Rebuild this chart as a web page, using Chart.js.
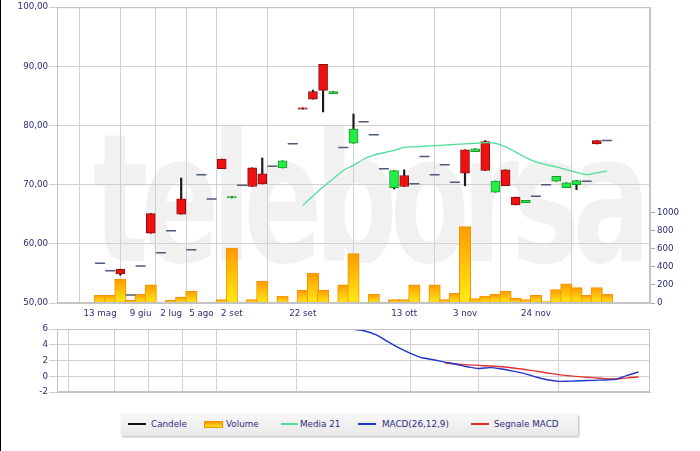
<!DOCTYPE html>
<html>
<head>
<meta charset="utf-8">
<script src="https://cdn.jsdelivr.net/npm/chart.js@4/dist/chart.umd.min.js"></script>
<style>
  body { margin: 0; background: #fff; width: 700px; height: 451px; position: relative; overflow: hidden; font-family: "DejaVu Sans", Verdana, sans-serif; }
  #main { position: absolute; left: 0; top: 0; }
  #macd { position: absolute; left: 0; top: 318px; }
  #edge { position: absolute; left: 0; top: 0; width: 1px; height: 451px; background: #000; }
  #legend { position: absolute; left: 121px; top: 414px; width: 457px; height: 22px; background: linear-gradient(#f7f7f7, #e9e9e9); box-shadow: 1px 1px 2px #b8b8b8; font-size: 8.8px; color: #2b2b80; }
  #legend .sw { position: absolute; }
  #legend .lb { position: absolute; top: 5px; white-space: nowrap; }
</style>
</head>
<body>
<div id="edge"></div>
<canvas id="main" width="700" height="325"></canvas>
<canvas id="macd" width="700" height="82"></canvas>
<div id="legend">
  <div class="sw" style="left:7px;top:9px;width:18px;height:2px;background:#111"></div><div class="lb" style="left:30px">Candele</div>
  <div class="sw" style="left:83px;top:7px;width:19px;height:7px;background:linear-gradient(#ff9a00,#ffe21a);box-sizing:border-box;border:1px solid #f29400"></div><div class="lb" style="left:105px">Volume</div>
  <div class="sw" style="left:160px;top:9px;width:17px;height:2px;background:#4ddf9a"></div><div class="lb" style="left:179px">Media 21</div>
  <div class="sw" style="left:237px;top:9px;width:18px;height:2px;background:#2233cc"></div><div class="lb" style="left:261px">MACD(26,12,9)</div>
  <div class="sw" style="left:350px;top:9px;width:18px;height:2px;background:#e83030"></div><div class="lb" style="left:373px">Segnale MACD</div>
</div>
<script>
// ticks on the time axis (bar index -> date label)
const tickIdx    = [0, 4, 7, 10, 13, 20, 30, 36, 43];
const tickLabels = ["13 mag", "9 giu", "2 lug", "5 ago", "2 set", "22 set", "13 ott", "3 nov", "24 nov"];
const volTicks   = [0, 200, 400, 600, 800, 1000];

const open  = [56.7,55.45,55.7,51.35,56.25,65.1,58.5,62.2,67.6,59.0, 71.7,67.6,74.35,67.75,69.9,72.85,71.85,73.1,72.85,76.9, 83.0,85.75,90.35,85.4,76.3,77.0,80.65,78.45,72.7,69.5, 71.55,70.15,74.75,71.7,73.35,70.4,75.9,75.6,77.3,68.75, 72.5,67.9,66.95,68.05,70.0,70.6,69.5,70.0,70.6,77.45, 77.45];
const high  = [56.7,55.45,55.75,51.35,56.25,65.1,58.5,62.2,71.1,59.0, 71.7,67.6,74.35,68.0,69.9,72.85,74.5,73.1,74.05,76.9, 83.0,86.0,90.35,85.75,76.3,81.95,80.65,78.45,72.7,72.4, 72.5,70.15,74.75,71.7,73.35,70.4,75.9,76.05,77.45,70.6, 72.5,67.9,67.35,68.05,70.0,71.4,70.3,70.7,70.6,77.45, 77.45];
const low   = [56.7,55.45,54.7,51.35,56.25,61.8,58.5,62.2,65.0,59.0, 71.7,67.6,72.7,67.75,69.9,69.7,70.15,73.1,72.85,76.9, 82.75,84.45,82.3,85.4,76.3,77.0,80.65,78.45,72.7,69.3, 69.7,70.15,74.75,71.7,73.35,70.4,69.85,75.6,72.4,68.75, 69.85,66.6,66.95,68.05,70.0,70.6,69.5,69.15,70.6,76.9, 77.45];
const close = [56.7,55.45,54.9,51.35,56.25,61.8,58.5,62.2,65.0,59.0, 71.7,67.6,72.7,68.0,69.9,69.7,70.15,73.1,74.05,76.9, 82.75,84.45,85.95,85.75,76.3,79.4,80.65,78.45,72.7,72.4, 69.7,70.15,74.75,71.7,73.35,70.4,71.95,76.05,72.4,70.6, 69.85,66.6,67.35,68.05,70.0,71.4,70.3,70.7,70.6,76.9, 77.45];
const volume = [85,85,262,30,96,203,11,30,66,129, 11,11,37,610,11,37,240,0,77,0, 140,332,140,0,203,550,0,96,0,37, 37,203,0,203,37,108,848,48,77,96, 129,55,37,85,18,148,214,170,85,170, 96];

const ma21 = [null,null,null,null,null,null,null,null,null,null, null,null,null,null,null,null,null,null,null,null,
  66.5,68.1,69.6,71.0,72.4,73.3,74.3,75.0,75.4,75.8, 76.3,76.4,76.5,76.6,76.7,76.8,76.9,77.0,77.1,77.0,
  76.4,75.5,74.6,73.85,73.4,73.0,72.55,72.1,71.7,72.0, 72.3];
const macd = [null,null,null,null,null,null,null,null,null,null, null,null,null,null,null,null,null,null,null,null, null,null,null,null,null,
  5.95,5.75,5.25,4.4,3.6, 2.9,2.35,2.1,1.8,1.52,1.2,0.98,1.1,0.92,0.65, 0.34,-0.1,-0.45,-0.65,-0.62,-0.57,-0.52,-0.47,-0.4,0.12, 0.55];
const signal = [null,null,null,null,null,null,null,null,null,null, null,null,null,null,null,null,null,null,null,null, null,null,null,null,null,null,null,null,null,null, null,null,null,
  1.7,1.55,1.45,1.38,1.3,1.2,1.05, 0.85,0.65,0.42,0.2,0.05,-0.08,-0.18,-0.3,-0.35,-0.2, -0.1];

const wmText = "teleborsa";
const labelColor = "#2c2c7c";
const gridColor = "#d0d0d0";
const font = { family: '"DejaVu Sans", Verdana, sans-serif', size: 8.7 };

const idx = volume.map((_, i) => i);
const isDash = i => open[i] === close[i] && high[i] === low[i];
const bodies = idx.filter(i => !isDash(i)).map(i => ({ x: i, y: [open[i], close[i]] }));
const wicks = idx.filter(i => !isDash(i)).map(i => ({ x: i, y: [low[i], high[i]] }));
const dashes = idx.filter(isDash).map(i => ({ x: i, y: close[i] }));

const frame = {
  id: "frame",
  afterDraw(chart) {
    const { ctx, chartArea: a } = chart;
    ctx.save();
    ctx.strokeStyle = "#c4c4c4";
    ctx.lineWidth = 1;
    ctx.strokeRect(a.left + 0.5, a.top + 0.5, a.right - a.left - 1, a.bottom - a.top - 1);
    ctx.restore();
  }
};

// faint logo text behind the price panel
const watermark = {
  id: "watermark",
  beforeDraw(chart) {
    const { ctx, chartArea: a } = chart;
    ctx.save();
    ctx.font = 'bold 178px "DejaVu Sans"';
    ctx.letterSpacing = "-12px";
    const w = ctx.measureText(wmText).width;
    ctx.translate(a.left + 36, a.top + 254);
    ctx.scale(550 / w, 1);
    ctx.fillStyle = "rgba(0,0,0,0.055)";
    ctx.fillText(wmText, 0, 0);
    ctx.restore();
  }
};

const volFill = ctx => {
  const c = ctx.chart;
  if (!c.chartArea || !ctx.raw) return "#ffbb00";
  const ys = c.scales.yVol;
  const top = ys.getPixelForValue(ctx.raw.y), bot = ys.getPixelForValue(0);
  if (bot - top < 2) return "#ffc400";
  const g = c.ctx.createLinearGradient(0, top, 0, bot);
  g.addColorStop(0, "#ff9a00");
  g.addColorStop(1, "#ffec14");
  return g;
};

const xScale = (showLabels) => ({
  type: "linear", min: -1, max: 51,
  afterBuildTicks: ax => { ax.ticks = tickIdx.map(v => ({ value: v })); },
  ticks: { display: showLabels, autoSkip: false, maxRotation: 0, padding: 6, color: labelColor, font,
           callback: v => tickLabels[tickIdx.indexOf(v)] },
  grid: { color: gridColor, drawTicks: false },
  border: { color: "#c4c4c4" },
  afterFit: ax => { ax.height = showLabels ? 22 : 8; }
});

new Chart(document.getElementById("main"), {
  type: "bar",
  data: {
    datasets: [
      { type: "line", data: ma21.map((v, i) => ({ x: i, y: v })), borderColor: "#4ddf9a", borderWidth: 1.3,
        pointRadius: 0, tension: 0.35, yAxisID: "y", order: 0 },
      { type: "line", data: dashes, showLine: false, pointStyle: "line", pointRadius: 5,
        pointBorderColor: "#4d5a78", pointBorderWidth: 1.5, yAxisID: "y", order: 1 },
      { data: bodies, grouped: false, barThickness: 9, borderWidth: 1, borderSkipped: false,
        backgroundColor: c => c.raw && c.raw.y[1] >= c.raw.y[0] ? "#22ee44" : "#ee1111",
        borderColor: c => c.raw && c.raw.y[1] >= c.raw.y[0] ? "#169a2c" : "#8a0f0f",
        yAxisID: "y", order: 2 },
      { data: wicks, grouped: false, barThickness: 1.5, backgroundColor: "#1a1a1a", yAxisID: "y", order: 3 },
      { data: volume.map((v, i) => ({ x: i, y: v })), grouped: false, barThickness: 11.4,
        backgroundColor: volFill, borderColor: "#f29400", borderWidth: 1, borderSkipped: false,
        yAxisID: "yVol", order: 4 }
    ]
  },
  options: {
    responsive: false, animation: false,
    layout: { padding: { top: 6 } },
    plugins: { legend: { display: false }, tooltip: { enabled: false } },
    scales: {
      x: xScale(true),
      y: {
        position: "left", min: 50, max: 100,
        ticks: { stepSize: 10, padding: 1, color: labelColor, font, callback: v => v.toFixed(2).replace(".", ",") },
        grid: { color: gridColor, tickLength: 8 },
        border: { color: "#c4c4c4" },
        afterFit: ax => { ax.width = 57; }
      },
      yVol: {
        position: "right", min: 0, max: 3285,
        afterBuildTicks: ax => { ax.ticks = volTicks.map(v => ({ value: v })); },
        ticks: { padding: 2, color: labelColor, font, callback: v => String(v) },
        grid: { drawOnChartArea: false, color: "#aaa", tickLength: 5 },
        border: { color: "#c4c4c4" },
        afterFit: ax => { ax.width = 50; }
      }
    }
  },
  plugins: [watermark, frame]
});

new Chart(document.getElementById("macd"), {
  type: "line",
  data: {
    datasets: [
      { data: macd.map((v, i) => ({ x: i, y: v })), borderColor: "#2233cc", borderWidth: 1.4, pointRadius: 0, tension: 0.3 },
      { data: signal.map((v, i) => ({ x: i, y: v })), borderColor: "#e83030", borderWidth: 1.4, pointRadius: 0, tension: 0.3 }
    ]
  },
  options: {
    responsive: false, animation: false,
    layout: { padding: { top: 11, right: 50 } },
    plugins: { legend: { display: false }, tooltip: { enabled: false } },
    scales: {
      x: xScale(false),
      y: {
        min: -2, max: 6,
        ticks: { stepSize: 2, padding: 1, color: labelColor, font },
        grid: { color: gridColor, tickLength: 8 },
        border: { color: "#c4c4c4" },
        afterFit: ax => { ax.width = 57; }
      }
    }
  },
  plugins: [frame]
});
</script>
</body>
</html>
